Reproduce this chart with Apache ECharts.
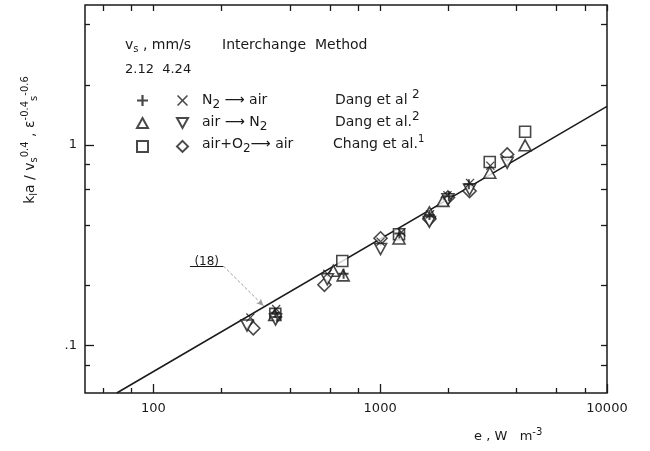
<!DOCTYPE html>
<html>
<head>
<meta charset="utf-8">
<script src="https://cdn.jsdelivr.net/npm/echarts@6/dist/echarts.min.js"></script>
<style>
html, body { margin: 0; padding: 0; background: #fff; }
#chart { width: 650px; height: 451px; }
</style>
</head>
<body>
<div id="chart"></div>
<script>
// [e (W m^-3), kla / vs^0.4 ...]
const plus212 = [[345, 0.146], [352, 0.139], [690, 0.228], [1215, 0.362], [1650, 0.448], [2010, 0.556], [2460, 0.638]];
const cross424 = [[268, 0.138], [348, 0.152], [585, 0.228], [1004, 0.33], [1240, 0.368], [1660, 0.452], [1980, 0.562], [2490, 0.648], [3060, 0.79]];
const triUp212 = [[343, 0.142], [622, 0.236], [687, 0.224], [1211, 0.342], [1648, 0.462], [1893, 0.527], [3042, 0.728], [4355, 0.998]];
const triDown424 = [[259, 0.126], [346, 0.135], [585, 0.214], [1004, 0.303], [1648, 0.414], [1991, 0.537], [2478, 0.6], [3631, 0.817]];
const square212 = [[345, 0.144], [681, 0.264], [1211, 0.359], [3042, 0.823], [4355, 1.165]];
const diamond424 = [[276, 0.122], [568, 0.201], [1004, 0.343], [1648, 0.428], [1991, 0.548], [2478, 0.59], [3631, 0.899]];

// eq. (18), read where it enters and leaves the frame
const line18 = [[69, 0.058], [10000, 1.56]];
const note18 = { label: [172, 0.262], under: [[145, 0.249], [204, 0.249]], tip: [306, 0.158] };

const xMajor = [100, 1000, 10000];
const xMinor = [60, 80, 200, 400, 600, 800, 2000, 4000, 6000, 8000];
const yMajor = [0.1, 1];
const yMinor = [0.08, 0.2, 0.4, 0.6, 0.8, 2, 4];

const FONT = 'DejaVu Sans';
const INK = '#1a1a1a';

const SYM_PLUS = 'path://M4,0H6V4H10V6H6V10H4V6H0V4H4Z';
const SYM_CROSS = 'path://M1,0L5,4L9,0L10,1L6,5L10,9L9,10L5,6L1,10L0,9L4,5L0,1Z';
const SYM_UP = 'path://M5,0L10,9L0,9Z';
const SYM_DOWN = 'path://M0,0L10,0L5,9Z';
const SYM_DIAMOND = 'path://M5,0L10,5L5,10L0,5Z';

const chart = echarts.init(document.getElementById('chart'));

function xAxisDef(pos, ticks, len, labels) {
    return {
        type: 'log', min: 50, max: 10000, position: pos,
        axisLine: { show: false },
        splitLine: { show: false },
        axisTick: { show: true, inside: true, length: len, customValues: ticks, lineStyle: { color: INK, width: 1.3 } },
        axisLabel: labels ? {
            show: true, customValues: labels, color: INK, fontFamily: FONT, fontSize: 13, margin: 9,
            formatter: v => String(Math.round(v))
        } : { show: false }
    };
}
function yAxisDef(pos, ticks, len, labels) {
    return {
        type: 'log', min: 0.058, max: 5, position: pos,
        axisLine: { show: false },
        splitLine: { show: false },
        axisTick: { show: true, inside: true, length: len, customValues: ticks, lineStyle: { color: INK, width: 1.3 } },
        axisLabel: labels ? {
            show: true, customValues: labels, color: INK, fontFamily: FONT, fontSize: 13, margin: 8,
            formatter: v => (v >= 1 ? '1' : '.1')
        } : { show: false }
    };
}

function marker(name, data, symbol, size, filled) {
    return {
        name: name, type: 'scatter', data: data,
        symbol: symbol, symbolSize: size,
        itemStyle: filled
            ? { color: INK, borderWidth: 0 }
            : { color: '#fff', borderColor: INK, borderWidth: 1.6 },
        emphasis: { disabled: true },
        z: filled ? 4 : 3
    };
}

const legendBase = {
    orient: 'vertical', selectedMode: false,
    itemWidth: 11, itemHeight: 11, itemGap: 11,
    textStyle: { fontSize: 6 }, formatter: () => '', top: 90
};

const option = {
    animation: false,
    grid: { left: 85, right: 43, top: 5, bottom: 58, show: true, borderColor: INK, borderWidth: 1.5 },
    xAxis: [
        xAxisDef('bottom', xMajor, 9, xMajor),
        xAxisDef('bottom', xMinor, 5, null),
        xAxisDef('top', xMajor.concat(xMinor), 6, null)
    ],
    yAxis: [
        yAxisDef('left', yMajor, 9, yMajor),
        yAxisDef('left', yMinor, 5, null),
        yAxisDef('right', yMajor.concat(yMinor), 6, null)
    ],
    legend: [
        Object.assign({ left: 131, data: ['N2 air 2.12', 'air N2 2.12', 'air+O2 2.12'] }, legendBase),
        Object.assign({ left: 171, data: ['N2 air 4.24', 'air N2 4.24', 'air+O2 4.24'] }, legendBase)
    ],
    series: [
        {
            name: 'eq18', type: 'line', data: line18, symbol: 'none', clip: true,
            lineStyle: { color: INK, width: 1.5 }, z: 2, emphasis: { disabled: true },
            markLine: {
                silent: true, symbol: ['none', 'none'], label: { show: false },
                data: [
                    [{ coord: note18.under[0], lineStyle: { color: INK, width: 1, type: 'solid' } }, { coord: note18.under[1] }],
                    [{ coord: note18.under[1], lineStyle: { color: '#9a9a9a', width: 1, type: [3, 2] } }, { coord: note18.tip, symbol: 'arrow', symbolSize: [5, 7] }]
                ]
            },
            markPoint: {
                silent: true, symbol: 'circle', symbolSize: 0,
                label: { show: true, position: 'inside', formatter: '(18)', color: INK, fontFamily: FONT, fontSize: 12 },
                data: [{ coord: note18.label }]
            }
        },
        marker('air+O2 2.12', square212, 'rect', 11, false),
        marker('air+O2 4.24', diamond424, SYM_DIAMOND, 13, false),
        marker('air N2 2.12', triUp212, SYM_UP, [12, 11], false),
        marker('air N2 4.24', triDown424, SYM_DOWN, [12, 11], false),
        marker('N2 air 2.12', plus212, SYM_PLUS, 10, true),
        marker('N2 air 4.24', cross424, SYM_CROSS, 9, true)
    ],
    graphic: [
        { type: 'text', x: 125, y: 45, style: { text: 'v{sub|s} , mm/s', font: '14px ' + FONT, fill: INK, verticalAlign: 'middle',
            rich: { sub: { fontSize: 10, fontFamily: FONT, verticalAlign: 'bottom', padding: [8, 0, 0, 0] } } } },
        { type: 'text', x: 222, y: 45, style: { text: 'Interchange  Method', font: '14px ' + FONT, fill: INK, verticalAlign: 'middle' } },
        { type: 'text', x: 125, y: 70, style: { text: '2.12  4.24', font: '13px ' + FONT, fill: INK, verticalAlign: 'middle' } },
        { type: 'text', x: 202, y: 100, style: { text: 'N{sub|2} ⟶ air', font: '14px ' + FONT, fill: INK, verticalAlign: 'middle',
            rich: { sub: { fontSize: 12, fontFamily: FONT, padding: [10, 0, 0, 0] } } } },
        { type: 'text', x: 202, y: 122, style: { text: 'air ⟶ N{sub|2}', font: '14px ' + FONT, fill: INK, verticalAlign: 'middle',
            rich: { sub: { fontSize: 12, fontFamily: FONT, padding: [10, 0, 0, 0] } } } },
        { type: 'text', x: 202, y: 144, style: { text: 'air+O{sub|2}⟶ air', font: '14px ' + FONT, fill: INK, verticalAlign: 'middle',
            rich: { sub: { fontSize: 12, fontFamily: FONT, padding: [10, 0, 0, 0] } } } },
        { type: 'text', x: 335, y: 100, style: { text: 'Dang et al {sup|2}', font: '14px ' + FONT, fill: INK, verticalAlign: 'middle',
            rich: { sup: { fontSize: 12, fontFamily: FONT, padding: [0, 0, 10, 0] } } } },
        { type: 'text', x: 335, y: 122, style: { text: 'Dang et al.{sup|2}', font: '14px ' + FONT, fill: INK, verticalAlign: 'middle',
            rich: { sup: { fontSize: 12, fontFamily: FONT, padding: [0, 0, 10, 0] } } } },
        { type: 'text', x: 333, y: 144, style: { text: 'Chang et al.{sup|1}', font: '14px ' + FONT, fill: INK, verticalAlign: 'middle',
            rich: { sup: { fontSize: 10, fontFamily: FONT, padding: [0, 0, 10, 0] } } } },
        { type: 'text', x: 474, y: 437, style: { text: 'e , W   m{sup|-3}', font: '13px ' + FONT, fill: INK, verticalAlign: 'middle',
            rich: { sup: { fontSize: 10, fontFamily: FONT, padding: [0, 0, 9, 0] } } } },
        { type: 'text', x: 30, y: 140, rotation: Math.PI / 2,
            style: { text: 'k{sub|l}a / v{sub|s}{sup|0.4} , ε{sup|-0.4}{sub|s}{sup|-0.6}', font: '14px ' + FONT, fill: INK, align: 'center', verticalAlign: 'middle',
                rich: {
                    sub: { fontSize: 10, fontFamily: FONT, padding: [9, 0, 0, 0] },
                    sup: { fontSize: 10, fontFamily: FONT, padding: [0, 0, 9, 0] }
                } } }
    ]
};

chart.setOption(option);
</script>
</body>
</html>
